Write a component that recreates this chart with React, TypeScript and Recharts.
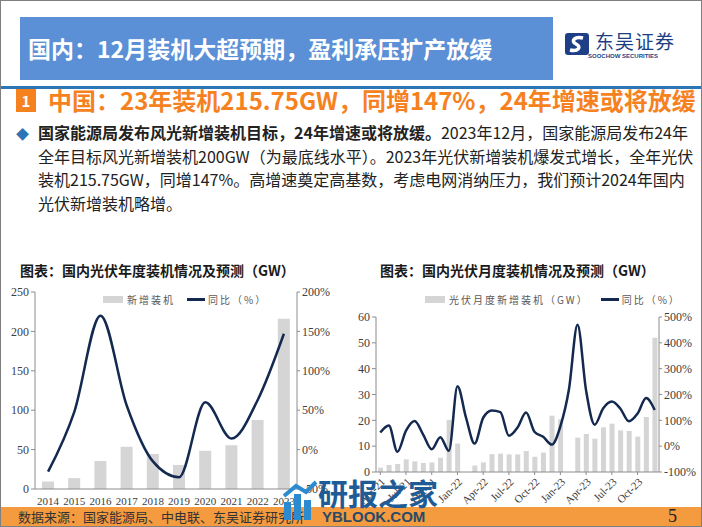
import React from 'react';
import { ComposedChart, Bar, Line, XAxis, YAxis } from 'recharts';

// 年度数据
const years = ['2014', '2015', '2016', '2017', '2018', '2019', '2020', '2021', '2022', '2023'];
const yearInstall = [9.5, 13.8, 35.5, 53.5, 44.5, 30.5, 48.5, 55.5, 87.5, 216];
const yearYoy = [-28, 48, 170, 56, -15, -35, 60, 14, 63, 147];

// 月度数据
const months = [
  'Apr-21', 'May-21', 'Jun-21', 'Jul-21', 'Aug-21', 'Sep-21', 'Oct-21', 'Nov-21', 'Dec-21',
  'Jan-22', 'Feb-22', 'Mar-22', 'Apr-22', 'May-22', 'Jun-22', 'Jul-22', 'Aug-22', 'Sep-22', 'Oct-22', 'Nov-22', 'Dec-22',
  'Jan-23', 'Feb-23', 'Mar-23', 'Apr-23', 'May-23', 'Jun-23', 'Jul-23', 'Aug-23', 'Sep-23', 'Oct-23', 'Nov-23', 'Dec-23',
];
const monthInstall = [
  1.7, 2.7, 3.1, 4.9, 4.1, 3.5, 3.7, 5.5, 20.2,
  11.0, null, 2.5, 3.7, 6.9, 7.1, 6.8, 6.8, 8.1, 5.9, 7.5, 21.8,
  20.4, null, 13.3, 14.7, 12.9, 17.3, 18.7, 16.1, 15.9, 13.7, 21.3, 52.0,
];
const monthYoy = [
  53, 80, -22, 60, 97, 45, -12, 35, -18,
  232, 110, 10, 110, 138, 132, 40, 72, 130, 55, 36, 6,
  77, 220, 470, 215, 83, 147, 173, 145, 96, 126, 186, 140,
];

const yearTicksL = [0, 50, 100, 150, 200, 250];
const yearTicksR = [-50, 0, 50, 100, 150, 200];
const monthTicksL = [0, 10, 20, 30, 40, 50, 60];
const monthTicksR = [-100, 0, 100, 200, 300, 400, 500];

const yearData = years.map((y, i) => ({ name: y, install: yearInstall[i], yoy: yearYoy[i] }));
const monthData = months.map((m, i) => ({ name: m, install: monthInstall[i], yoy: monthYoy[i] }));

const CJK = '"Noto Sans CJK SC", "Noto Sans", sans-serif';
const SERIF = '"Liberation Serif", "DejaVu Serif", serif';
const BAR = '#D5D5D5';
const LINE = '#14294F';
const AXIS = '#8C8C8C';
const tickStyle = { fontFamily: SERIF, fontSize: 12, fill: '#404040' };

const LegendBox = ({ left, top, barLabel }: { left: number; top: number; barLabel: string }) => (
  <div style={{ position: 'absolute', left, top, display: 'flex', alignItems: 'center', fontFamily: CJK, fontSize: 10, color: '#595959', whiteSpace: 'nowrap' }}>
    <span style={{ display: 'inline-block', width: 20, height: 7, background: BAR, marginRight: 4 }} />
    <span style={{ letterSpacing: 2 }}>{barLabel}</span>
    <span style={{ display: 'inline-block', width: 18, height: 2.5, background: LINE, marginLeft: 12, marginRight: 3 }} />
    <span style={{ letterSpacing: 2 }}>同比（%）</span>
  </div>
);

const App: React.FC = () => {
  return (
    <div style={{ position: 'absolute', left: 0, top: 0, width: 702, height: 527, background: '#fff', overflow: 'hidden', fontFamily: CJK }}>
      {/* 顶部标题 */}
      <div style={{ position: 'absolute', left: 20, top: 17, width: 533, height: 63, background: '#5B8FD6' }} />
      <div style={{ position: 'absolute', left: 28, top: 33, lineHeight: '30px', fontSize: 23, fontWeight: 'bold', color: '#fff', whiteSpace: 'nowrap' }}>
        国内：12月装机大超预期，盈利承压扩产放缓
      </div>
      <svg style={{ position: 'absolute', left: 565, top: 33 }} width={24} height={22}>
        <rect x={0} y={0} width={24} height={22} rx={3} fill="#1E3F86" />
        <path d="M18 5 C10 3, 5 8, 11 11 C17 14, 13 19, 5 17" stroke="#fff" strokeWidth={3.5} fill="none" />
      </svg>
      <div style={{ position: 'absolute', left: 595, top: 29, fontSize: 19, lineHeight: '24px', color: '#1E3F86', letterSpacing: 1 }}>东吴证券</div>
      <div style={{ position: 'absolute', left: 588, top: 53, fontSize: 6, lineHeight: '7px', fontWeight: 'bold', color: '#1E3F86', fontFamily: '"Liberation Sans", sans-serif' }}>SOOCHOW SECURITIES</div>
      <div style={{ position: 'absolute', left: 0, top: 86, width: 702, height: 3, background: '#2E75B6' }} />

      {/* 小标题 */}
      <div style={{ position: 'absolute', left: 16, top: 89, width: 20, height: 23, background: '#F5821F', color: '#fff', fontSize: 15, fontWeight: 'bold', lineHeight: '23px', textAlign: 'center' }}>1</div>
      <div style={{ position: 'absolute', left: 48, top: 86, fontSize: 24, lineHeight: '28px', fontWeight: 'bold', color: '#F5821F', whiteSpace: 'nowrap' }}>
        中国：23年装机215.75GW，同增147%，24年增速或将放缓
      </div>

      {/* 正文 */}
      <div style={{ position: 'absolute', left: 16, top: 122, fontSize: 13, lineHeight: '23.5px', color: '#2E75B6' }}>◆</div>
      <div style={{ position: 'absolute', left: 38, top: 121, fontSize: 16, lineHeight: '23.5px', color: '#222', whiteSpace: 'nowrap' }}>
        <b>国家能源局发布风光新增装机目标，24年增速或将放缓。</b>2023年12月，国家能源局发布24年<br />
        全年目标风光新增装机200GW（为最底线水平）。2023年光伏新增装机爆发式增长，全年光伏<br />
        装机215.75GW，同增147%。高增速奠定高基数，考虑电网消纳压力，我们预计2024年国内<br />
        光伏新增装机略增。
      </div>

      {/* 图表标题 */}
      <div style={{ position: 'absolute', left: 20, top: 261, fontSize: 14, lineHeight: '18px', fontWeight: 'bold', color: '#1a1a1a', whiteSpace: 'nowrap' }}>
        图表：国内光伏年度装机情况及预测（GW）
      </div>
      <div style={{ position: 'absolute', left: 380, top: 261, fontSize: 14, lineHeight: '18px', fontWeight: 'bold', color: '#1a1a1a', whiteSpace: 'nowrap' }}>
        图表：国内光伏月度装机情况及预测（GW）
      </div>

      {/* 年度图 */}
      <div style={{ position: 'absolute', left: 0, top: 280 }}>
        <ComposedChart width={350} height={227} data={yearData} margin={{ top: 12, right: 0, bottom: 0, left: 0 }}>
          <XAxis dataKey="name" height={18} tick={{ ...tickStyle, fontSize: 11 }} tickLine={false} axisLine={{ stroke: AXIS }} interval={0} />
          <YAxis yAxisId="l" width={35} domain={[0, 250]} ticks={yearTicksL} tick={tickStyle} tickSize={4} axisLine={{ stroke: AXIS }} tickLine={{ stroke: AXIS }} />
          <YAxis yAxisId="r" orientation="right" width={53} domain={[-50, 200]} ticks={yearTicksR} tick={tickStyle} tickSize={3} tickFormatter={(v: number) => `${v}%`} axisLine={{ stroke: AXIS }} tickLine={{ stroke: AXIS }} />
          <Bar yAxisId="l" dataKey="install" fill={BAR} barSize={12} isAnimationActive={false} />
          <Line yAxisId="r" dataKey="yoy" type="monotone" stroke={LINE} strokeWidth={2.5} dot={false} isAnimationActive={false} />
        </ComposedChart>
      </div>
      <LegendBox left={103} top={292} barLabel="新增装机" />

      {/* 月度图 */}
      <div style={{ position: 'absolute', left: 350, top: 280 }}>
        <ComposedChart width={352} height={227} data={monthData} margin={{ top: 37, right: 0, bottom: 0, left: 0 }}>
          <XAxis dataKey="name" height={35} interval={2} angle={-45} textAnchor="end" tick={{ ...tickStyle, fontSize: 11 }} tickSize={3} axisLine={{ stroke: AXIS }} tickLine={{ stroke: AXIS }} />
          <YAxis yAxisId="l" width={26} domain={[0, 60]} ticks={monthTicksL} tick={tickStyle} tickSize={4} axisLine={{ stroke: AXIS }} tickLine={{ stroke: AXIS }} />
          <YAxis yAxisId="r" orientation="right" width={43} domain={[-100, 500]} ticks={monthTicksR} tick={tickStyle} tickSize={3} tickFormatter={(v: number) => `${v}%`} axisLine={{ stroke: AXIS }} tickLine={{ stroke: AXIS }} />
          <Bar yAxisId="l" dataKey="install" fill={BAR} barSize={5} isAnimationActive={false} />
          <Line yAxisId="r" dataKey="yoy" type="monotone" stroke={LINE} strokeWidth={2.5} dot={false} isAnimationActive={false} />
        </ComposedChart>
      </div>
      <LegendBox left={425} top={292} barLabel="光伏月度新增装机（GW）" />

      {/* 底部 */}
      <div style={{ position: 'absolute', left: 0, top: 507, width: 702, height: 20, background: '#F49A3F' }} />
      <div style={{ position: 'absolute', left: 18, top: 508, fontSize: 13, lineHeight: '18px', color: '#333', whiteSpace: 'nowrap' }}>
        数据来源：国家能源局、中电联、东吴证券研究所
      </div>
      <div style={{ position: 'absolute', left: 668, top: 506, fontSize: 18, lineHeight: '20px', color: '#222', fontFamily: SERIF }}>5</div>

      {/* 水印 */}
      <svg style={{ position: 'absolute', left: 282, top: 478 }} width={38} height={44}>
        <rect x={2} y={24} width={7} height={18} fill="#2C8BD0" />
        <rect x={12} y={16} width={7} height={26} fill="#2C8BD0" />
        <rect x={22} y={22} width={7} height={20} fill="#2C8BD0" />
        <path d="M2 18 L14 8 L24 14 L34 4" stroke="#2C8BD0" strokeWidth={4} fill="none" />
      </svg>
      <div style={{ position: 'absolute', left: 318, top: 474, fontSize: 30, lineHeight: '36px', fontWeight: 'bold', color: '#1F5C96', whiteSpace: 'nowrap' }}>研报之家</div>
      <div style={{ position: 'absolute', left: 322, top: 508, fontSize: 15, lineHeight: '18px', fontWeight: 'bold', color: '#2A4A66', fontFamily: '"Liberation Sans", sans-serif' }}>YBLOOK.COM</div>

      <div style={{ position: 'absolute', left: 0, top: 0, width: 702, height: 527, boxSizing: 'border-box', border: '1px solid #7F7F7F', pointerEvents: 'none' }} />
    </div>
  );
};

export default App;
